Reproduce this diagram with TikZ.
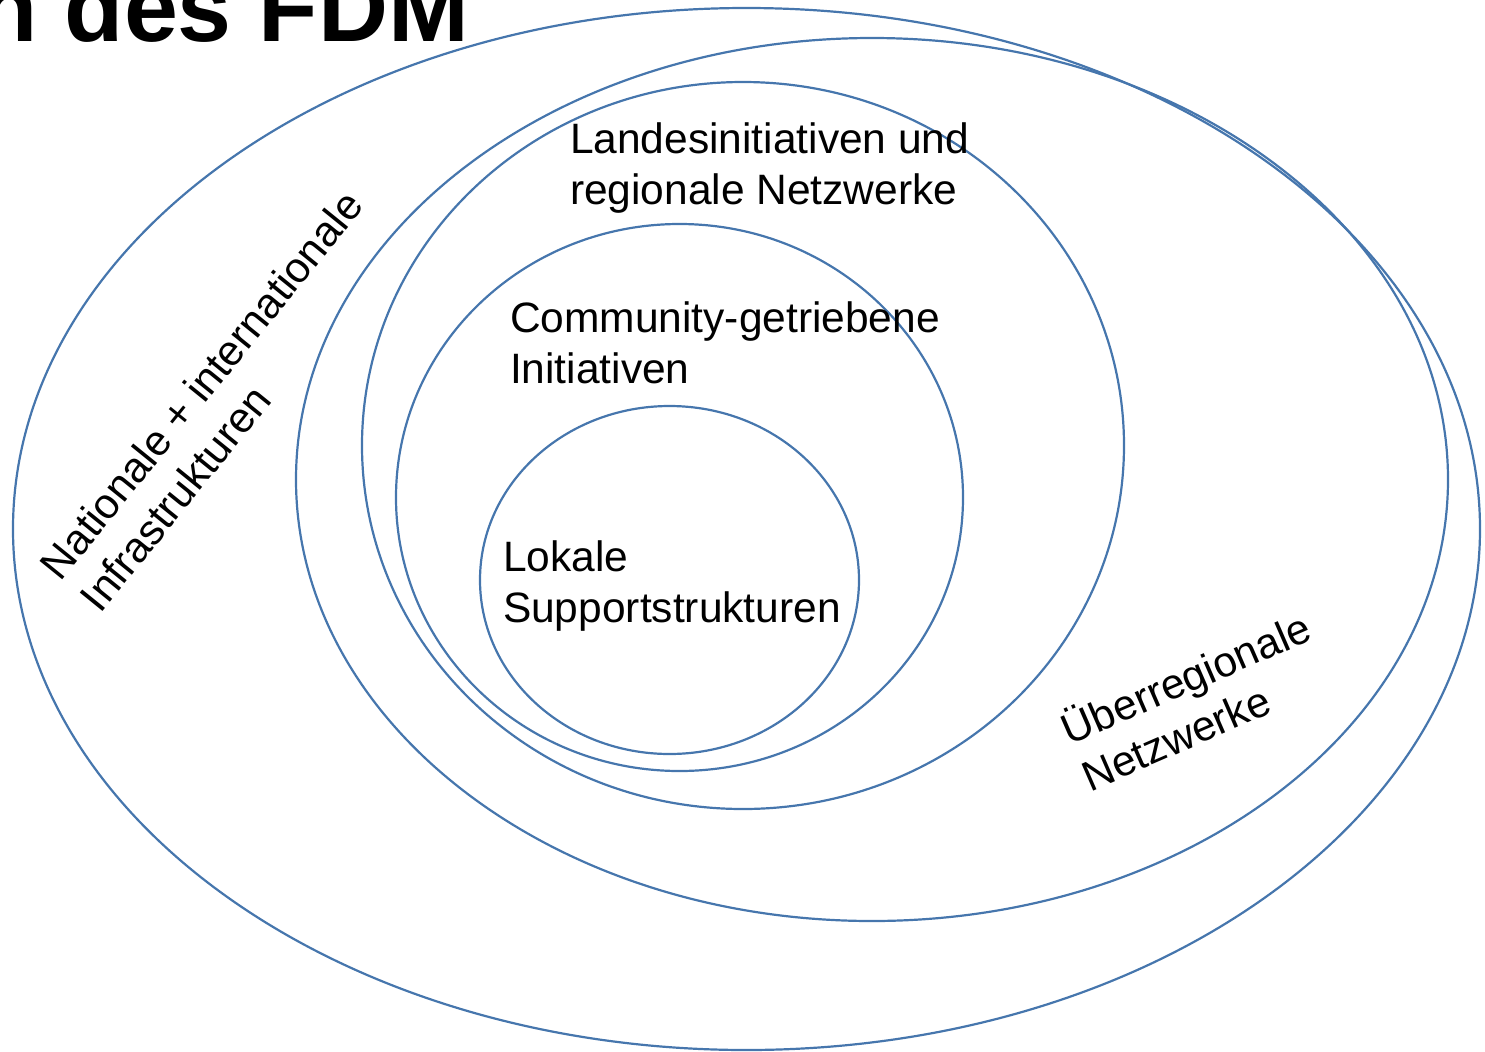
\documentclass[tikz,border=0pt]{standalone}
\usepackage{fontspec}
\setmainfont{Liberation Sans}
\definecolor{ringblue}{HTML}{4676AD}
\tikzset{
  ring/.style={draw=ringblue, line width=1.1pt},
  lbl/.style={inner sep=0pt, outer sep=0pt, align=left, anchor=base west,
    font=\fontsize{21.25pt}{25.5pt}\selectfont},
  titletext/.style={inner sep=0pt, outer sep=0pt, anchor=base east,
    font=\fontsize{48.5pt}{58pt}\selectfont\bfseries}
}
\begin{document}
\begin{tikzpicture}[x=0.5pt,y=-0.5pt]
\useasboundingbox (0,0) rectangle (1485,1051);
\clip (0,0) rectangle (1485,1051);
% ellipses (centre in px, radii in pt = px/2)
\draw[ring] (746.5,529) ellipse [x radius=366.75pt, y radius=260.5pt];
\draw[ring] (872,479.5) ellipse [x radius=288pt, y radius=220.75pt];
\draw[ring] (743,445.5) ellipse [x radius=190.5pt, y radius=181.75pt];
\draw[ring] (679.5,497.5) ellipse [x radius=141.75pt, y radius=136.75pt];
\draw[ring] (669.5,580) ellipse [x radius=94.75pt, y radius=87pt];
% title
\node[titletext] (title) at (469,41.5) {n des FDM};
% labels (anchor = baseline of the last line)
\node[lbl] (landes) at (570,204) {Landesinitiativen und\\regionale Netzwerke};
\node[lbl] (community) at (510,383) {Community-getriebene\\Initiativen};
\node[lbl] (lokale) at (503,622) {Lokale\\Supportstrukturen};
\node[lbl, rotate=51] (national) at (100.6,614.1) {Nationale + internationale\\Infrastrukturen};
\node[lbl, rotate=23.5] (ueber) at (1090,792) {Überregionale\\Netzwerke};
\end{tikzpicture}
\end{document}
